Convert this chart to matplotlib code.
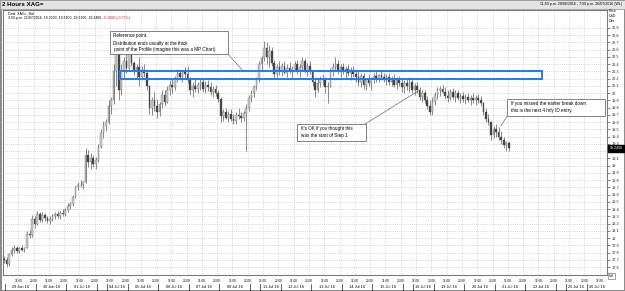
import numpy as np
import matplotlib.pyplot as plt
from matplotlib.patches import Rectangle
from matplotlib.text import Annotation

# 2-hour OHLC bars, XAG= (silver), 28 Jun 2016 23:50 -> 21 Jul 2016 15:50
opens = [17.72, 17.70, 17.64, 17.78, 17.84, 17.86, 17.82, 17.86, 17.84, 17.87,
         18.06, 18.04, 18.26, 18.20, 18.34, 18.25, 18.32, 18.28, 18.24, 18.27,
         18.30, 18.33, 18.31, 18.35, 18.33, 18.39, 18.45, 18.47, 18.57, 18.70,
         18.74, 18.73, 18.77, 19.15, 19.05, 19.10, 19.02, 19.08, 19.26, 19.45,
         19.55, 19.60, 19.82, 19.90, 20.30, 20.55, 20.05, 20.30, 20.45, 20.35,
         20.60, 20.42, 20.30, 20.36, 20.22, 20.32, 20.28, 20.10, 19.80, 19.90,
         19.82, 19.74, 19.85, 19.98, 19.88, 20.05, 20.12, 20.08, 20.20, 20.28,
         20.22, 20.30, 20.26, 20.18, 20.05, 20.10, 20.06, 20.12, 20.15, 20.06,
         20.12, 20.08, 20.02, 20.06, 20.00, 19.92, 19.68, 19.74, 19.66, 19.72,
         19.65, 19.62, 19.70, 19.68, 19.66, 19.73, 19.80, 19.94, 20.00, 20.08,
         20.18, 20.40, 20.48, 20.62, 20.50, 20.58, 20.42, 20.26, 20.36, 20.30,
         20.38, 20.28, 20.35, 20.30, 20.34, 20.40, 20.32, 20.36, 20.44, 20.32,
         20.38, 20.30, 20.16, 20.05, 20.14, 20.20, 20.18, 20.08, 20.10, 20.30,
         20.36, 20.40, 20.32, 20.36, 20.30, 20.34, 20.28, 20.32, 20.26, 20.22,
         20.16, 20.24, 20.12, 20.18, 20.14, 20.20, 20.24, 20.20, 20.25, 20.22,
         20.18, 20.22, 20.16, 20.20, 20.12, 20.18, 20.14, 20.08, 20.14, 20.10,
         20.16, 20.05, 20.10, 20.04, 19.95, 20.00, 19.90, 19.82, 19.74, 19.88,
         19.98, 20.04, 20.06, 20.02, 19.96, 19.94, 20.02, 19.95, 20.00, 19.94,
         19.96, 19.92, 19.95, 19.90, 19.94, 19.91, 19.93, 19.90, 19.86, 19.74,
         19.65, 19.60, 19.42, 19.50, 19.46, 19.40, 19.36, 19.28, 19.32]
highs = [17.76, 17.74, 17.80, 17.88, 17.90, 17.89, 17.88, 17.90, 17.88, 18.10,
         18.12, 18.32, 18.30, 18.38, 18.36, 18.36, 18.35, 18.31, 18.30, 18.33,
         18.36, 18.38, 18.37, 18.40, 18.42, 18.48, 18.50, 18.60, 18.72, 18.78,
         18.80, 18.79, 19.25, 19.22, 19.18, 19.15, 19.12, 19.30, 19.50, 19.62,
         19.64, 19.90, 19.95, 20.40, 20.75, 20.70, 20.40, 20.50, 20.55, 20.68,
         20.66, 20.45, 20.40, 20.50, 20.38, 20.40, 20.33, 20.12, 19.95, 20.02,
         19.92, 19.88, 20.05, 20.04, 20.10, 20.18, 20.20, 20.24, 20.33, 20.34,
         20.32, 20.36, 20.38, 20.22, 20.15, 20.20, 20.16, 20.20, 20.19, 20.17,
         20.18, 20.15, 20.10, 20.12, 20.04, 19.95, 19.78, 19.80, 19.76, 19.78,
         19.72, 19.74, 19.80, 19.74, 19.76, 19.85, 19.98, 20.05, 20.12, 20.22,
         20.45, 20.52, 20.72, 20.70, 20.66, 20.64, 20.46, 20.40, 20.44, 20.42,
         20.45, 20.40, 20.43, 20.38, 20.44, 20.46, 20.40, 20.50, 20.48, 20.42,
         20.44, 20.32, 20.22, 20.20, 20.24, 20.26, 20.22, 20.15, 20.35, 20.42,
         20.50, 20.46, 20.40, 20.42, 20.38, 20.40, 20.36, 20.38, 20.34, 20.30,
         20.28, 20.28, 20.20, 20.26, 20.22, 20.28, 20.30, 20.27, 20.30, 20.28,
         20.26, 20.28, 20.24, 20.26, 20.22, 20.24, 20.20, 20.18, 20.20, 20.22,
         20.20, 20.14, 20.16, 20.08, 20.05, 20.04, 19.96, 19.90, 19.95, 20.02,
         20.08, 20.10, 20.12, 20.08, 20.04, 20.06, 20.07, 20.04, 20.05, 20.00,
         20.02, 19.99, 20.00, 19.98, 20.00, 19.97, 19.99, 19.96, 19.88, 19.80,
         19.72, 19.62, 19.55, 19.58, 19.54, 19.48, 19.40, 19.34, 19.34]
lows = [17.66, 17.60, 17.62, 17.76, 17.80, 17.79, 17.80, 17.82, 17.81, 17.86,
        18.00, 18.02, 18.14, 18.18, 18.22, 18.22, 18.24, 18.21, 18.20, 18.24,
        18.26, 18.28, 18.27, 18.30, 18.31, 18.36, 18.40, 18.45, 18.55, 18.66,
        18.70, 18.68, 18.76, 18.98, 18.95, 18.98, 18.96, 19.05, 19.24, 19.38,
        19.48, 19.58, 19.72, 19.85, 20.10, 19.90, 19.98, 20.20, 20.28, 20.32,
        20.38, 20.25, 20.20, 20.10, 20.18, 20.22, 20.05, 19.72, 19.70, 19.75,
        19.66, 19.68, 19.80, 19.82, 19.86, 19.98, 20.00, 20.04, 20.16, 20.18,
        20.15, 20.20, 20.14, 19.98, 19.95, 20.02, 20.00, 20.04, 20.02, 20.00,
        20.03, 19.98, 19.95, 19.96, 19.88, 19.60, 19.62, 19.64, 19.60, 19.62,
        19.58, 19.58, 19.64, 19.60, 19.62, 19.20, 19.75, 19.88, 19.95, 20.04,
        20.15, 20.30, 20.44, 20.40, 20.36, 20.38, 20.20, 20.22, 20.25, 20.24,
        20.26, 20.22, 20.28, 20.20, 20.30, 20.27, 20.22, 20.30, 20.28, 20.24,
        20.26, 20.10, 19.95, 20.02, 20.08, 20.12, 20.00, 19.87, 20.08, 20.24,
        20.30, 20.26, 20.22, 20.26, 20.20, 20.24, 20.18, 20.22, 20.16, 20.10,
        20.08, 20.06, 20.04, 20.10, 20.05, 20.14, 20.16, 20.15, 20.18, 20.15,
        20.12, 20.12, 20.10, 20.08, 20.06, 20.10, 20.02, 20.00, 20.04, 20.02,
        20.00, 19.98, 20.00, 19.90, 19.88, 19.86, 19.78, 19.70, 19.70, 19.84,
        19.92, 19.96, 20.00, 19.92, 19.88, 19.90, 19.92, 19.88, 19.90, 19.86,
        19.88, 19.85, 19.88, 19.84, 19.86, 19.84, 19.86, 19.82, 19.70, 19.60,
        19.56, 19.36, 19.38, 19.40, 19.36, 19.30, 19.24, 19.21, 19.21]
closes = [17.70, 17.64, 17.78, 17.84, 17.86, 17.82, 17.86, 17.84, 17.87, 18.06,
          18.04, 18.26, 18.20, 18.34, 18.25, 18.32, 18.28, 18.24, 18.27, 18.30,
          18.33, 18.31, 18.35, 18.33, 18.39, 18.45, 18.47, 18.57, 18.70, 18.74,
          18.73, 18.77, 19.15, 19.05, 19.10, 19.02, 19.08, 19.26, 19.45, 19.55,
          19.60, 19.82, 19.90, 20.30, 20.55, 20.05, 20.30, 20.45, 20.35, 20.60,
          20.42, 20.30, 20.36, 20.22, 20.32, 20.28, 20.10, 19.80, 19.90, 19.82,
          19.74, 19.85, 19.98, 19.88, 20.05, 20.12, 20.08, 20.20, 20.28, 20.22,
          20.30, 20.26, 20.18, 20.05, 20.10, 20.06, 20.12, 20.15, 20.06, 20.12,
          20.08, 20.02, 20.06, 20.00, 19.92, 19.68, 19.74, 19.66, 19.72, 19.65,
          19.62, 19.70, 19.68, 19.66, 19.73, 19.80, 19.94, 20.00, 20.08, 20.18,
          20.40, 20.48, 20.62, 20.50, 20.58, 20.42, 20.26, 20.36, 20.30, 20.38,
          20.28, 20.35, 20.30, 20.34, 20.40, 20.32, 20.36, 20.44, 20.32, 20.38,
          20.30, 20.16, 20.05, 20.14, 20.20, 20.18, 20.08, 20.10, 20.30, 20.36,
          20.40, 20.32, 20.36, 20.30, 20.34, 20.28, 20.32, 20.26, 20.22, 20.16,
          20.24, 20.12, 20.18, 20.14, 20.20, 20.24, 20.20, 20.25, 20.22, 20.18,
          20.22, 20.16, 20.20, 20.12, 20.18, 20.14, 20.08, 20.14, 20.10, 20.16,
          20.05, 20.10, 20.04, 19.95, 20.00, 19.90, 19.82, 19.74, 19.88, 19.98,
          20.04, 20.06, 20.02, 19.96, 19.94, 20.02, 19.95, 20.00, 19.94, 19.96,
          19.92, 19.95, 19.90, 19.94, 19.91, 19.93, 19.90, 19.86, 19.74, 19.65,
          19.60, 19.42, 19.50, 19.46, 19.40, 19.36, 19.28, 19.32, 19.24]

# trading-day sections along the bar axis (first bar index and number of bars)
day_labels = ["29 Jun 16", "30 Jun 16", "01 Jul 16", "04 Jul 16", "05 Jul 16",
              "06 Jul 16", "07 Jul 16", "08 Jul 16", "11 Jul 16", "12 Jul 16",
              "13 Jul 16", "14 Jul 16", "15 Jul 16", "18 Jul 16", "19 Jul 16",
              "20 Jul 16", "21 Jul 16", "22 Jul 16", "25 Jul 16", "26 Jul 16"]
day_start = [1, 13, 25, 41, 49, 61, 73, 85, 101, 109, 121, 133, 145, 161,
             169, 181, 193, 205, 221, 229]
day_len = [12, 12, 12, 8, 12, 12, 12, 12, 8, 12, 12, 12, 12, 8, 12, 12, 12,
           12, 8, 12]

last_price = "19.2400"

W, H = 625, 291
XMIN, XMAX = -0.4, 236.5
YMIN, YMAX = 17.493, 21.148

fig = plt.figure(figsize=(6.25, 2.91), dpi=100)
fig.patch.set_edgecolor("#8c8c8c")
fig.patch.set_linewidth(1.0)
ax = fig.add_axes([3 / W, 16 / H, 604 / W, 265 / H])
ax.set_xlim(XMIN, XMAX)
ax.set_ylim(YMIN, YMAX)

def fx(px):
    return px / W

def fy(py):
    return 1 - py / H

# title strip
fig.patches.append(Rectangle((0, fy(9)), 1, 9 / H, transform=fig.transFigure,
                             fc="#e4e4e4", ec="#9a9a9a", lw=0.6, zorder=0))
fig.text(fx(2), fy(4.5), "2 Hours XAG=", fontsize=4.4, fontweight="bold",
         family="Liberation Sans", va="center", ha="left")
fig.text(fx(622), fy(4.5), "11:50 p.m. 28/06/2016 - 7:50 p.m. 26/07/2016 (WL)",
         fontsize=2.6, family="Liberation Sans", va="center", ha="right")

# candles
o, h, l, c = map(np.array, (opens, highs, lows, closes))
x = np.arange(len(c))
up = c >= o
ax.vlines(x, l, h, color="#5a5a5a", lw=0.5, zorder=2)
bottom = np.minimum(o, c)
height = np.maximum(np.abs(c - o), 0.01)
ax.bar(x[up], height[up], bottom=bottom[up], width=0.65, color="#cfcfcf",
       edgecolor="#5a5a5a", linewidth=0.25, zorder=3)
ax.bar(x[~up], height[~up], bottom=bottom[~up], width=0.65, color="#454545",
       edgecolor="#454545", linewidth=0.25, zorder=3)

# grid: 11:00 and 23:00 of every day, 0.1 in price
time_pos, time_lab = [], []
for s, n in zip(day_start, day_len):
    off = 0.6 if n == 8 else 4.6
    for p, t in ((s + off, "11:00"), (s + off + 6, "23:00")):
        if p < XMAX:
            time_pos.append(p)
            time_lab.append(t)
ax.set_xticks(time_pos)
ax.set_xticklabels([])
ax.tick_params(axis="x", length=0)
yt = np.round(np.arange(17.6, 20.95, 0.1), 1)
ax.yaxis.tick_right()
ax.set_yticks(yt)
ax.set_yticklabels([f"{v:g}" for v in yt], fontsize=2.8, family="Liberation Sans")
ax.tick_params(axis="y", length=2.5, width=0.4, pad=1, colors="#222222")
ax.grid(True, ls=(0, (1, 2)), lw=0.45, color="#ababab", zorder=0)
for sp in ax.spines.values():
    sp.set_color("#7a7a7a")
    sp.set_linewidth(0.8)

# bottom time / date rows
trans = ax.get_xaxis_transform()
for p, t in zip(time_pos, time_lab):
    ax.text(p, -0.024, t, transform=trans, ha="center", va="center",
            fontsize=2.3, family="Liberation Sans")
edges = set()
for lab, s, n in zip(day_labels, day_start, day_len):
    cx = (s - 0.5 + min(s + n - 0.5, XMAX)) / 2
    ax.text(cx, -0.047, lab, transform=trans, ha="center", va="center",
            fontsize=2.8, family="Liberation Sans")
    edges.update([s - 0.5, s + n - 0.5])
for e in sorted(edges):
    if XMIN < e < XMAX - 4:
        ax.plot([e, e], [-0.034, -0.06], transform=trans, color="#222222",
                lw=0.5, clip_on=False)

# header inside the chart
fig.text(fx(8), fy(13.3), "Cmd: XAG=, Bid", fontsize=2.5,
         family="Liberation Sans", va="center")
t_hdr = fig.text(fx(8), fy(18.5),
                 "3:50 p.m. 21/07/2016, 19.3200, 19.3400, 19.2100, 19.2400, ",
                 fontsize=2.5, family="Liberation Sans", va="center")
fig.add_artist(Annotation(
    "-0.1500 (-0.77%)", xy=(1, 0), xycoords=t_hdr, va="bottom", ha="left",
    fontsize=2.5, family="Liberation Sans", color="red"))

# right axis header, last price tag, volume box
for py, s in ((11, "Price"), (16, "USD"), (21, "Ozs")):
    fig.text(fx(609), fy(py), s, fontsize=2.5, family="Liberation Sans",
             va="center")
ax.text(1.004, 19.24, last_price, transform=ax.get_yaxis_transform(),
        ha="left", va="center", fontsize=2.6, color="white",
        family="Liberation Sans", zorder=6,
        bbox=dict(boxstyle="square,pad=0.35", fc="black", ec="black"))
fig.text(fx(609), fy(276), "Vol", fontsize=2.6, family="Liberation Sans",
         va="center", bbox=dict(boxstyle="square,pad=0.3", fc="white",
                                ec="#7a7a7a", lw=0.5))

# value area box
ax.add_patch(Rectangle((45.5, 20.19), 165.5, 0.12, fill=False, ec="#1f7bf0",
                       lw=1.4, zorder=5))

# annotation boxes
notes = [
    ((41.6, 20.54), 46.2, 0.32, (42.7, [20.79, 20.69, 20.60]),
     ["Reference point.", "Distribution ends usually at the thick",
      " point of the Profile (imagine this was a MP Chart)"],
     ((87.8, 20.54), (93.7, 20.31))),
    ((114.9, 19.34), 27.1, 0.235, (116.4, [19.51, 19.42]),
     ["It's OK if you thought this", "was the start of Step 1"],
     ((141.6, 19.575), (162.4, 20.03))),
    ((197.3, 19.686), 38.4, 0.235, (198.8, [19.86, 19.76]),
     ["If you missed the earlier break down", "this is the next 4 hrly ID entry."],
     ((197.6, 19.70), (194.9, 19.55))),
]
for (bx, by), bw, bh, (tx, tys), lines, (p0, p1) in notes:
    ax.plot([p0[0], p1[0]], [p0[1], p1[1]], color="#6e6e6e", lw=0.5, zorder=6)
    ax.add_patch(Rectangle((bx, by), bw, bh, fc="white", ec="#6e6e6e",
                           lw=0.6, zorder=7))
    for ty, s in zip(tys, lines):
        ax.text(tx, ty, s, fontsize=3.3, family="Liberation Sans",
                va="center", ha="left", zorder=8)

fig.savefig("out.png", dpi=100)
